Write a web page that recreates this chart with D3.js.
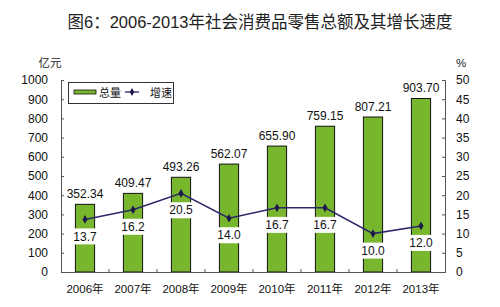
<!DOCTYPE html>
<html><head><meta charset="utf-8">
<script src="https://cdn.jsdelivr.net/npm/d3@7"></script>
<style>body{margin:0;background:#fff}svg{display:block}</style>
</head><body>
<svg id="c" width="500" height="307"></svg>
<script>
const years = ["2006年","2007年","2008年","2009年","2010年","2011年","2012年","2013年"];
const totals = [352.34, 409.47, 493.26, 562.07, 655.90, 759.15, 807.21, 903.70];
const growth = [13.7, 16.2, 20.5, 14.0, 16.7, 16.7, 10.0, 12.0];
const leftTicks = [0,100,200,300,400,500,600,700,800,900,1000];
const rightTicks = [0,5,10,15,20,25,30,35,40,45,50];

const svg = d3.select("#c");
const FONT = "'Liberation Sans', Arial, sans-serif";
const CJK = "'Noto Sans CJK SC', sans-serif";
const MIX = "'Liberation Sans', 'Noto Sans CJK SC', sans-serif";
const L = 61, R = 445, T = 80, B = 272;

const x = d3.scaleBand().domain(years).range([L, R]).paddingInner(0.6).paddingOuter(0.3);
const xs = d3.scaleBand().domain(years).range([L, R]);
const yL = d3.scaleLinear().domain([0, 1000]).range([B, T]);
const yR = d3.scaleLinear().domain([0, 50]).range([B, T]);

// title
svg.append("text").attr("x", 260).attr("y", 28).attr("text-anchor", "middle")
  .attr("font-family", MIX).attr("font-size", 16.5).attr("fill", "#222")
  .text("图6：2006-2013年社会消费品零售总额及其增长速度");

svg.append("text").attr("x", 50).attr("y", 67).attr("text-anchor", "middle")
  .attr("font-family", CJK).attr("font-size", 11.5).attr("fill", "#222").text("亿元");
svg.append("text").attr("x", 461).attr("y", 67).attr("text-anchor", "middle")
  .attr("font-family", FONT).attr("font-size", 11.5).attr("fill", "#222").text("%");

// bars
svg.append("g").selectAll("rect").data(totals).join("rect")
  .attr("x", (d, i) => x(years[i])).attr("width", x.bandwidth())
  .attr("y", d => yL(d)).attr("height", d => B - yL(d))
  .attr("fill", "#78b72d").attr("stroke", "#111").attr("stroke-width", 1);

// value labels
svg.append("g").selectAll("text").data(totals).join("text")
  .attr("x", (d, i) => xs(years[i]) + xs.bandwidth() / 2)
  .attr("y", d => yL(d) - 6)
  .attr("text-anchor", "middle").attr("font-family", FONT).attr("font-size", 12).attr("fill", "#111")
  .text(d => d.toFixed(2));

// axes
const axL = d3.axisLeft(yL).tickValues(leftTicks).tickSize(-3).tickPadding(13).tickFormat(d3.format("d"));
const gL = svg.append("g").attr("transform", `translate(${L},0)`).call(axL);
const axR = d3.axisRight(yR).tickValues(rightTicks).tickSize(-3).tickPadding(11).tickFormat(d3.format("d"));
const gR = svg.append("g").attr("transform", `translate(${R},0)`).call(axR);
const axB = d3.axisBottom(xs).tickSize(0).tickPadding(13);
const gB = svg.append("g").attr("transform", `translate(0,${B})`).call(axB);
[gL, gR, gB].forEach(g => {
  g.selectAll("path").attr("stroke", "#555");
  g.selectAll("line").attr("stroke", "#555");
  g.selectAll("text").attr("font-family", FONT).attr("font-size", 12).attr("fill", "#111");
});
gB.selectAll("text").attr("font-family", MIX).attr("font-size", 11.5);
// x category separators (inward)
svg.append("g").selectAll("line").data(years.slice(1)).join("line")
  .attr("x1", d => xs(d)).attr("x2", d => xs(d)).attr("y1", B).attr("y2", B - 3)
  .attr("stroke", "#555");

// line
const line = d3.line().x((d, i) => xs(years[i]) + xs.bandwidth() / 2).y(d => yR(d));
svg.append("path").datum(growth).attr("d", line).attr("fill", "none")
  .attr("stroke", "#2b2868").attr("stroke-width", 1.5);
svg.append("g").selectAll("path").data(growth).join("path")
  .attr("transform", (d, i) => `translate(${xs(years[i]) + xs.bandwidth() / 2},${yR(d)})`)
  .attr("d", d3.symbol(d3.symbolDiamond, 22)).attr("fill", "#1c1a4a");

// growth labels with white boxes
const gl = svg.append("g").selectAll("g").data(growth).join("g")
  .attr("transform", (d, i) => `translate(${xs(years[i]) + xs.bandwidth() / 2},${yR(d) + 17})`);
gl.append("rect").attr("x", -15).attr("y", -8).attr("width", 30).attr("height", 16).attr("fill", "#fff");
gl.append("text").attr("text-anchor", "middle").attr("dy", "0.35em")
  .attr("font-family", FONT).attr("font-size", 12).attr("fill", "#111").text(d => d.toFixed(1));

// legend
const lg = svg.append("g");
lg.append("rect").attr("x", 68.5).attr("y", 82.5).attr("width", 105).attr("height", 21)
  .attr("fill", "#fff").attr("stroke", "#333");
lg.append("rect").attr("x", 74).attr("y", 90).attr("width", 22).attr("height", 4)
  .attr("fill", "#78b72d").attr("stroke", "#111").attr("stroke-width", 0.8);
lg.append("text").attr("x", 99).attr("y", 96.5).attr("font-family", CJK).attr("font-size", 11).attr("fill", "#111").text("总量");
lg.append("line").attr("x1", 125).attr("x2", 139).attr("y1", 92).attr("y2", 92).attr("stroke", "#2b2868").attr("stroke-width", 1.3);
lg.append("path").attr("transform", "translate(132,92)").attr("d", d3.symbol(d3.symbolDiamond, 18)).attr("fill", "#1c1a4a");
lg.append("text").attr("x", 150).attr("y", 96.5).attr("font-family", CJK).attr("font-size", 11).attr("fill", "#111").text("增速");
</script>
</body></html>
